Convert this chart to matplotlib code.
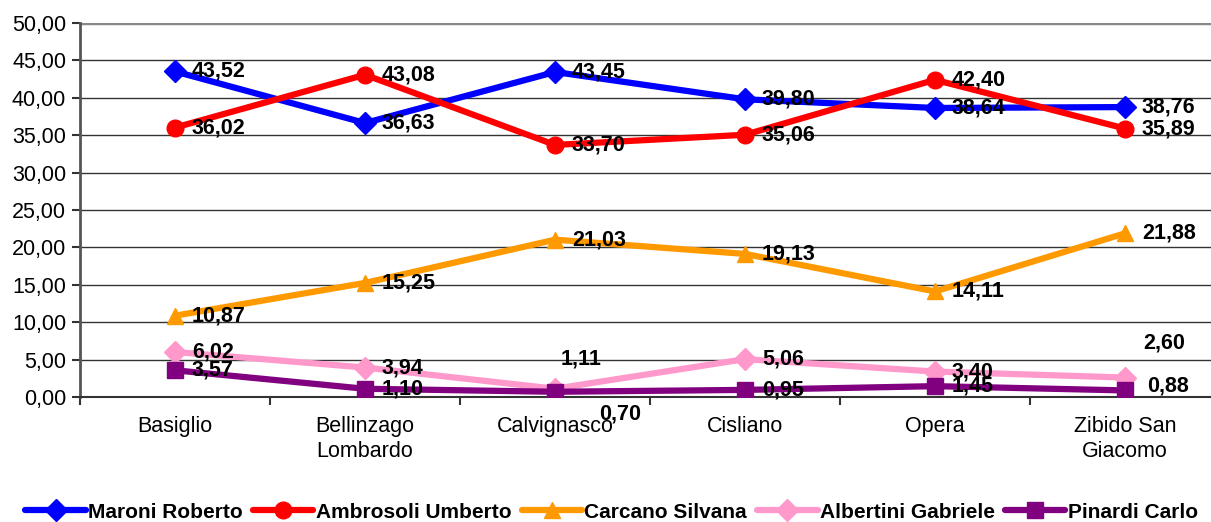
import matplotlib.pyplot as plt

plt.rcParams['font.family'] = ['Liberation Sans', 'DejaVu Sans']

comuni = ['Basiglio', 'Bellinzago\nLombardo', 'Calvignasco', 'Cisliano', 'Opera', 'Zibido San\nGiacomo']
maroni = [43.52, 36.63, 43.45, 39.80, 38.64, 38.76]
ambrosoli = [36.02, 43.08, 33.70, 35.06, 42.40, 35.89]
carcano = [10.87, 15.25, 21.03, 19.13, 14.11, 21.88]
albertini = [6.02, 3.94, 1.11, 5.06, 3.40, 2.60]
pinardi = [3.57, 1.10, 0.70, 0.95, 1.45, 0.88]

serie = [
    ('Maroni Roberto', maroni, '#0000FF', 'D', 11),
    ('Ambrosoli Umberto', ambrosoli, '#FF0000', 'o', 12),
    ('Carcano Silvana', carcano, '#FF9900', '^', 12),
    ('Albertini Gabriele', albertini, '#FF99CC', 'D', 11),
    ('Pinardi Carlo', pinardi, '#800080', 's', 11),
]

# label offsets in pixels (dx, dy) where excel moved them
offsets = {
    ('Albertini Gabriele', 2): (6, 30),
    ('Pinardi Carlo', 2): (44, -22),
    ('Albertini Gabriele', 5): (18, 35),
    ('Pinardi Carlo', 5): (22, 4),
}

fig = plt.figure(figsize=(12.11, 5.22), dpi=100)
ax = fig.add_axes([80 / 1211, 1 - 397 / 522, 1140 / 1211, 374 / 522])
x = list(range(len(comuni)))

for nome, vals, col, mk, ms in serie:
    ax.plot(x, vals, color=col, lw=4.5, marker=mk, markersize=ms,
            solid_capstyle='round', label=nome, zorder=3)
    for i, v in enumerate(vals):
        dx, dy = offsets.get((nome, i), (17, 0))
        ax.annotate(f'{v:.2f}'.replace('.', ','), (i, v), xytext=(dx, dy),
                    textcoords='offset pixels', ha='left', va='center',
                    fontsize=15.5, fontweight='bold', zorder=4)

ax.set_xlim(-0.5, 5.5)
ax.set_ylim(0, 50)
ax.set_yticks(range(0, 51, 5))
ax.set_yticklabels([f'{t:.2f}'.replace('.', ',') for t in range(0, 51, 5)], fontsize=15.5)
ax.set_xticks(x)
ax.set_xticklabels(comuni, fontsize=15.5)
ax.set_xticks([i - 0.5 for i in range(len(comuni) + 1)], minor=True)
ax.tick_params(axis='x', which='major', length=0, pad=14)
ax.tick_params(axis='x', which='minor', length=6, width=1.5, color='#333333')
ax.tick_params(axis='y', length=6, width=1.5, color='#333333', pad=4)
ax.grid(axis='y', color='#333333', lw=1)
ax.set_axisbelow(True)
for s in ['top', 'right']:
    ax.spines[s].set_visible(False)
ax.spines['left'].set_color('#555555')
ax.spines['left'].set_linewidth(2)
ax.spines['bottom'].set_color('#333333')
ax.spines['bottom'].set_linewidth(1.5)
ax.axhline(50, color='#888888', lw=2.5, zorder=1)

fig.legend(loc='lower center', bbox_to_anchor=(0.505, -0.035), ncol=5, frameon=False,
           prop={'weight': 'bold', 'size': 15}, handlelength=2.9, handletextpad=0.1,
           columnspacing=0.5)

plt.savefig('out.png', dpi=100)
